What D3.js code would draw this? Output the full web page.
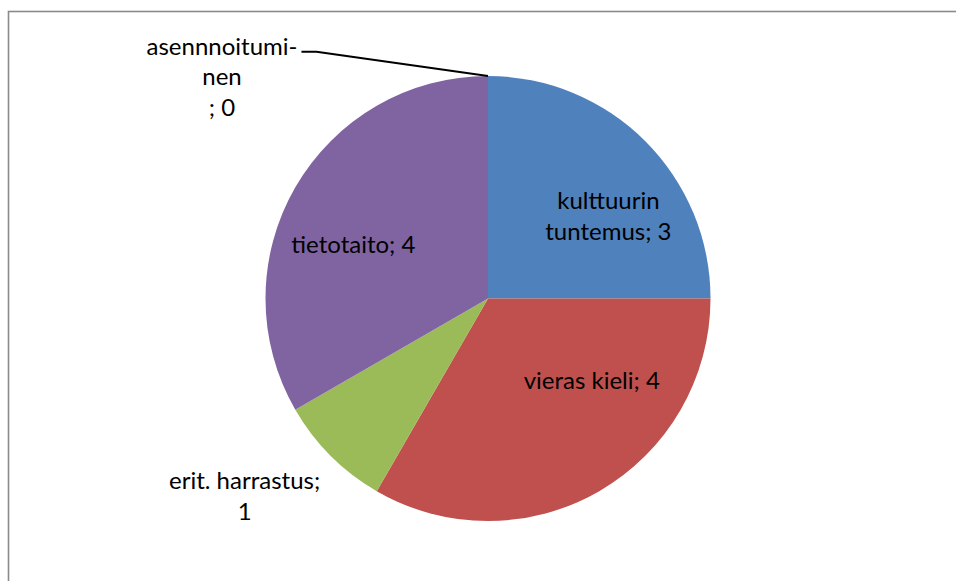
<!DOCTYPE html>
<html>
<head>
<meta charset="utf-8">
<script src="https://cdn.jsdelivr.net/npm/d3@7"></script>
<style>
  html, body { margin: 0; padding: 0; background: #fff; }
  svg { display: block; }
  .lbl { font-family: Lato, "Open Sans", sans-serif; font-size: 24px; fill: #000; }
</style>
</head>
<body>
<svg class="chart"></svg>
<script>
(function() {
  'use strict';

var categories = ['kulttuurin tuntemus', 'vieras kieli', 'erit. harrastus', 'tietotaito', 'asennnoitumi-nen'];
var values = [3, 4, 1, 4, 0];
// how Excel wrapped each data label
var labelLines = [
  ['kulttuurin', 'tuntemus; 3'],
  ['vieras kieli; 4'],
  ['erit. harrastus;', '1'],
  ['tietotaito; 4'],
  ['asennnoitumi-', 'nen', '; 0']
];
var colors = ['#4f81bd', '#c0504d', '#9bbb59', '#8064a2', '#4bacc6'];

var width = 956,
    height = 581;
var cx = 488, cy = 298.5, radius = 222.5;
var lineGap = 30.5;
// label nudges from the 0.6r centroid
var nudge = [[26, 12], [37, -34], [-149, 103], [-19, 13], [-266, -88]];

var svg = d3.select('.chart')
    .attr('width', width)
    .attr('height', height);

// chart frame (right and bottom edges fall outside the picture)
svg.append('rect')
    .attr('x', 8.5)
    .attr('y', 11.5)
    .attr('width', 1000)
    .attr('height', 700)
    .attr('fill', 'none')
    .attr('stroke', '#8a8a8a')
    .attr('stroke-width', 1.6);

var data = categories.map(function(c, i) { return { name: c, value: values[i], lines: labelLines[i] }; });

var pie = d3.pie()
    .sort(null)
    .value(function(d) { return d.value; });

var arc = d3.arc()
    .innerRadius(0)
    .outerRadius(radius);

var labelArc = d3.arc()
    .innerRadius(radius * 0.6)
    .outerRadius(radius * 0.6);

var g = svg.append('g')
    .attr('transform', 'translate(' + cx + ',' + cy + ')');

var arcs = pie(data);

g.selectAll('path')
    .data(arcs)
  .enter().append('path')
    .attr('d', arc)
    .attr('fill', function(d, i) { return colors[i]; });

var lbl = g.selectAll('text')
    .data(arcs)
  .enter().append('text')
    .attr('class', 'lbl')
    .attr('text-anchor', 'middle')
    .attr('transform', function(d, i) {
      var c = labelArc.centroid(d);
      return 'translate(' + (c[0] + nudge[i][0]) + ',' + (c[1] + nudge[i][1]) + ')';
    });

lbl.each(function(d) {
  var n = d.data.lines.length;
  d3.select(this).selectAll('tspan')
      .data(d.data.lines)
    .enter().append('tspan')
      .attr('x', 0)
      .attr('y', function(l, j) { return (j - (n - 1) / 2) * lineGap + 8.4; })
      .text(function(l) { return l; });
});

// leader line for the zero slice
var zero = arcs[arcs.length - 1];
var zi = arcs.length - 1;
var first = d3.select(lbl.nodes()[zi]).select('tspan').node().getBBox();
var c0 = labelArc.centroid(zero);
var sx = c0[0] + nudge[zi][0] + first.x + first.width + 4;
var sy = c0[1] + nudge[zi][1] + first.y + first.height * 0.72;
var a = zero.startAngle;
var ex = Math.sin(a) * radius, ey = -Math.cos(a) * radius;
g.append('path')
    .attr('d', 'M' + sx + ',' + sy + 'H' + (sx + 15) + 'L' + ex + ',' + ey)
    .attr('fill', 'none')
    .attr('stroke', '#000')
    .attr('stroke-width', 2);
}());
</script>
</body>
</html>
